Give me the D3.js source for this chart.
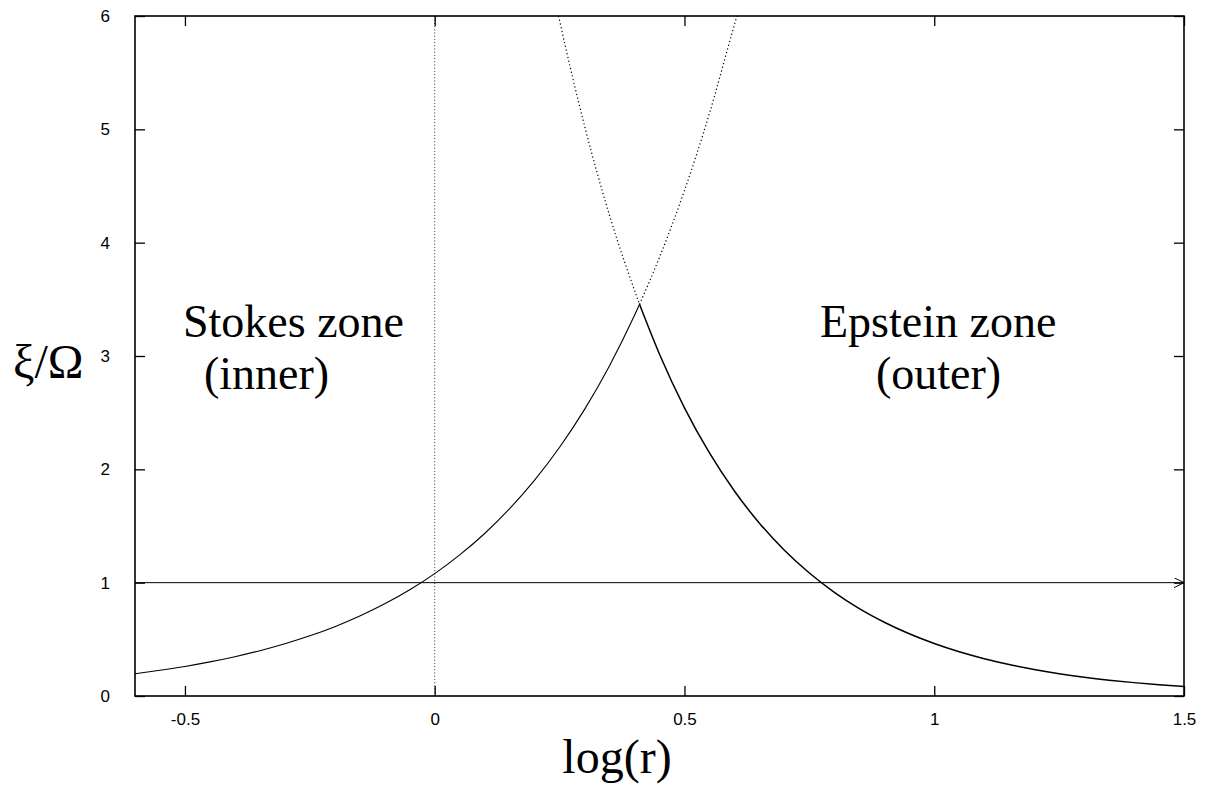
<!DOCTYPE html>
<html>
<head>
<meta charset="utf-8">
<script src="https://cdn.jsdelivr.net/npm/d3@7"></script>
<style>
  html, body { margin: 0; padding: 0; background: #fff; }
  svg { display: block; }
  .tick text { font-family: "Liberation Sans", Arial, sans-serif; font-size: 17px; fill: #000; }
  .lbl { font-family: "Liberation Serif", "Times New Roman", serif; font-size: 48px; fill: #000; }
  .zone { font-family: "Liberation Serif", "Times New Roman", serif; font-size: 46px; fill: #000; }
</style>
</head>
<body>
<svg id="chart" width="1209" height="786"></svg>
<script>
// log(r) sample positions and xi/Omega values for the Stokes (inner) branch
const stokesX = [-0.6, -0.55, -0.5, -0.45, -0.4, -0.35, -0.3, -0.25, -0.2, -0.15, -0.1, -0.05,
                 0, 0.05, 0.1, 0.15, 0.2, 0.25, 0.3, 0.35, 0.4, 0.41];
const stokesY = [0.197, 0.227, 0.261, 0.301, 0.347, 0.400, 0.461, 0.531, 0.612, 0.706, 0.813, 0.937,
                 1.08, 1.245, 1.434, 1.653, 1.905, 2.195, 2.529, 2.915, 3.359, 3.456];
// continuation of the Stokes branch beyond the crossing (dotted)
const stokesExtX = [0.41, 0.45, 0.5, 0.55, 0.6, 0.605];
const stokesExtY = [3.456, 3.871, 4.460, 5.141, 5.924, 6.0];

// Epstein (outer) branch
const epsteinX = [0.41, 0.45, 0.5, 0.55, 0.6, 0.65, 0.7, 0.75, 0.8, 0.85, 0.9, 0.95, 1.0,
                  1.05, 1.1, 1.15, 1.2, 1.25, 1.3, 1.35, 1.4, 1.45, 1.5];
const epsteinY = [3.456, 3.016, 2.543, 2.145, 1.809, 1.525, 1.286, 1.085, 0.915, 0.771, 0.651, 0.549, 0.463,
                  0.390, 0.329, 0.278, 0.234, 0.197, 0.166, 0.140, 0.118, 0.100, 0.084];
// continuation of the Epstein branch inward (dotted)
const epsteinExtX = [0.248, 0.25, 0.3, 0.35, 0.41];
const epsteinExtY = [6.0, 5.96, 5.03, 4.24, 3.456];

const xTicks = [-0.5, 0, 0.5, 1, 1.5];
const yTicks = [0, 1, 2, 3, 4, 5, 6];
const refLevel = 1;      // xi/Omega = 1
const boundaryX = 0;     // log(r) = 0

const svg = d3.select("#chart");
const L = 135, R = 1184, T = 16, B = 696;

const x = d3.scaleLinear().domain([-0.6, 1.5]).range([L, R]);
const y = d3.scaleLinear().domain([0, 6]).range([B, T]);

const zip = (xs, ys) => xs.map((v, i) => [v, ys[i]]);
const line = d3.line().x(d => x(d[0])).y(d => y(d[1])).curve(d3.curveMonotoneX);

// dotted vertical at log(r)=0
svg.append("line")
  .attr("x1", x(boundaryX)).attr("x2", x(boundaryX))
  .attr("y1", y(0)).attr("y2", y(6))
  .attr("stroke", "#444").attr("stroke-width", 1)
  .attr("stroke-dasharray", "1.2,2");

// horizontal reference line with arrowhead
svg.append("defs").append("marker")
  .attr("id", "arrow").attr("viewBox", "0 0 10 10")
  .attr("refX", 10).attr("refY", 5)
  .attr("markerWidth", 10).attr("markerHeight", 10)
  .attr("markerUnits", "userSpaceOnUse")
  .attr("orient", "auto")
  .append("path").attr("d", "M0,0 L10,5 L0,10")
  .attr("fill", "none").attr("stroke", "#000").attr("stroke-width", 1);

svg.append("line")
  .attr("x1", x(-0.6)).attr("x2", x(1.5))
  .attr("y1", y(refLevel)).attr("y2", y(refLevel))
  .attr("stroke", "#000").attr("stroke-width", 1)
  .attr("marker-end", "url(#arrow)");

// dotted continuations
[[stokesExtX, stokesExtY], [epsteinExtX, epsteinExtY]].forEach(([xs, ys]) => {
  svg.append("path").attr("d", line(zip(xs, ys)))
    .attr("fill", "none").attr("stroke", "#000").attr("stroke-width", 1.2)
    .attr("stroke-dasharray", "1.2,2.6");
});

// solid branches
svg.append("path").attr("d", line(zip(stokesX, stokesY)))
  .attr("fill", "none").attr("stroke", "#000").attr("stroke-width", 1.1);
svg.append("path").attr("d", line(zip(epsteinX, epsteinY)))
  .attr("fill", "none").attr("stroke", "#000").attr("stroke-width", 1.5);

// axes: ticks inside on all four sides
const tickLen = 10;
const plain = d => String(d);
svg.append("g").attr("transform", `translate(0,${B})`)
  .call(d3.axisBottom(x).tickValues(xTicks).tickFormat(plain).tickSizeInner(-tickLen).tickSizeOuter(0).tickPadding(17))
  .call(g => g.select(".domain").remove());
svg.append("g").attr("transform", `translate(0,${T})`)
  .call(d3.axisTop(x).tickValues(xTicks).tickFormat("").tickSizeInner(-tickLen).tickSizeOuter(0))
  .call(g => g.select(".domain").remove());
svg.append("g").attr("transform", `translate(${L},0)`)
  .call(d3.axisLeft(y).tickValues(yTicks).tickFormat(plain).tickSizeInner(-tickLen).tickSizeOuter(0).tickPadding(25))
  .call(g => g.select(".domain").remove());
svg.append("g").attr("transform", `translate(${R},0)`)
  .call(d3.axisRight(y).tickValues(yTicks).tickFormat("").tickSizeInner(-tickLen).tickSizeOuter(0))
  .call(g => g.select(".domain").remove());
svg.selectAll(".tick line").attr("stroke", "#000").attr("stroke-width", 1.3);

// frame
svg.append("rect")
  .attr("x", L).attr("y", T).attr("width", R - L).attr("height", B - T)
  .attr("fill", "none").attr("stroke", "#000").attr("stroke-width", 1.6);

// axis titles
svg.append("text").attr("class", "lbl").attr("x", 617).attr("y", 773)
  .attr("text-anchor", "middle").text("log(r)");
svg.append("text").attr("class", "lbl").attr("x", 13).attr("y", 378).text("ξ/Ω");

// zone labels
svg.append("text").attr("class", "zone").attr("x", 183).attr("y", 337).text("Stokes zone");
svg.append("text").attr("class", "zone").attr("x", 204).attr("y", 389).text("(inner)");
svg.append("text").attr("class", "zone").attr("x", 820).attr("y", 337).text("Epstein zone");
svg.append("text").attr("class", "zone").attr("x", 876).attr("y", 389).text("(outer)");
</script>
</body>
</html>
